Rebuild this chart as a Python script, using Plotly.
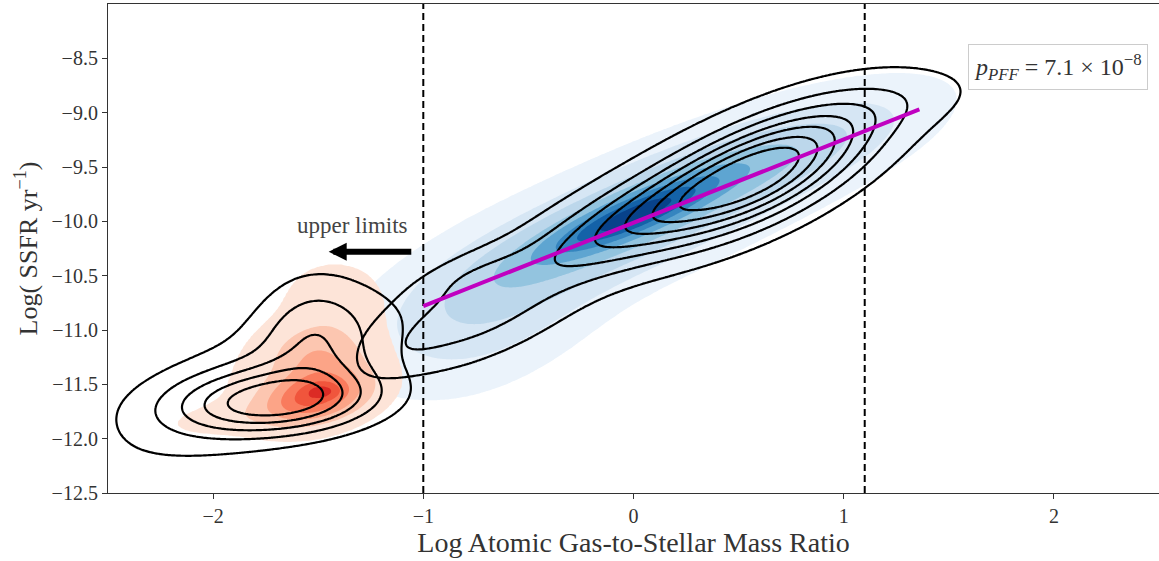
import numpy as np
import plotly.graph_objects as go

# ---- data ----
# Each density is a sum of tilted Gaussian blobs:
# centre (cx, cy), spread along x (sx), spread across the tilt (sv), tilt slope, weight.
blue_cx = [0.00, 0.00, 0.75, -0.70, 0.10]
blue_cy = [-9.94, -9.97, -9.38, -10.88, -9.95]
blue_sx = [0.28, 0.55, 0.38, 0.34, 0.90]
blue_sv = [0.13, 0.30, 0.24, 0.42, 0.48]
blue_slope = [0.77, 0.77, 0.60, 0.60, 0.75]
blue_w = [0.90, 0.60, 0.25, 0.22, 0.09]

red_cx = [-1.47, -1.52, -1.55, -1.42, -1.95, -1.50]
red_cy = [-11.56, -11.62, -11.45, -10.70, -11.82, -11.25]
red_sx = [0.06, 0.16, 0.28, 0.17, 0.20, 0.15]
red_sv = [0.05, 0.15, 0.36, 0.25, 0.10, 0.20]
red_slope = [0.00, 0.30, 0.20, 0.00, 0.20, 0.00]
red_w = [0.15, 0.75, 0.14, 0.13, 0.10, 0.30]

det_cx = [0.60, 0.00, -0.80, 0.30, 1.30, -0.78, -1.10]
det_cy = [-9.55, -10.01, -10.90, -9.72, -8.88, -10.48, -11.20]
det_sx = [0.35, 0.35, 0.35, 0.85, 0.30, 0.18, 0.15]
det_sv = [0.30, 0.24, 0.30, 0.52, 0.20, 0.12, 0.15]
det_slope = [0.77, 0.77, 0.60, 0.72, 0.30, 0.60, 0.80]
det_w = [1.00, 0.40, 0.28, 0.13, 0.08, 0.08, 0.05]

lim_cx = [-1.70, -1.52, -1.75]
lim_cy = [-11.66, -11.02, -11.45]
lim_sx = [0.32, 0.18, 0.55]
lim_sv = [0.20, 0.38, 0.42]
lim_slope = [0.10, 0.00, 0.75]
lim_w = [1.00, 0.36, 0.33]

det_levels = [0.10, 0.22, 0.34, 0.46, 0.58, 0.70, 0.82]
lim_levels = [0.14, 0.30, 0.47, 0.64, 0.81]
blue_levels = [0.04, 0.12, 0.22, 0.34, 0.48, 0.62, 0.76, 0.90]
red_levels = [0.06, 0.22, 0.40, 0.58, 0.76, 0.92]

fit_x = [-1.0, 1.36]
fit_y = [-10.78, -8.97]

vline_x = [-1.0, 1.1]

x_ticks = [-2, -1, 0, 1, 2]
y_ticks = [-12.5, -12.0, -11.5, -11.0, -10.5, -10.0, -9.5, -9.0, -8.5]

blues = ["#ebf3fb", "#d6e6f4", "#bcd7eb", "#93c4df", "#5ea5d1", "#3585bf", "#1462a8", "#08428a"]
reds = ["#fde4d8", "#fcc6b0", "#fca487", "#f97b5d", "#f0553c", "#dc2b25"]


def mixture(X, Y, cx, cy, sx, sv, slope, w):
    Z = np.zeros_like(X)
    for a, b, s1, s2, k, ww in zip(cx, cy, sx, sv, slope, w):
        u = (X - a) / s1
        v = ((Y - b) - k * (X - a)) / s2
        Z += ww * np.exp(-0.5 * (u * u + v * v))
    return Z / Z.max()


gx = np.linspace(-2.5, 2.5, 420)
gy = np.linspace(-12.5, -8.0, 320)
X, Y = np.meshgrid(gx, gy)
Zb = mixture(X, Y, blue_cx, blue_cy, blue_sx, blue_sv, blue_slope, blue_w)
Zr = mixture(X, Y, red_cx, red_cy, red_sx, red_sv, red_slope, red_w)
Zd = mixture(X, Y, det_cx, det_cy, det_sx, det_sv, det_slope, det_w)
Zl = mixture(X, Y, lim_cx, lim_cy, lim_sx, lim_sv, lim_slope, lim_w)


def remap(z, levels):
    # piecewise-linear remap so that level k sits at value k (k = 1..n)
    n = len(levels)
    return np.interp(z, [0.0] + levels + [1.0001], list(range(0, n + 1)) + [n + 0.999])


def add_fill(fig, z, levels, colors):
    n = len(colors)
    cols = ["rgba(255,255,255,0)"] + colors
    scale = []
    for i, c in enumerate(cols):
        scale.append([i / (n + 1), c])
        scale.append([(i + 1) / (n + 1), c])
    fig.add_trace(go.Contour(
        x=gx, y=gy, z=remap(z, levels), zmin=0, zmax=n + 1, autocontour=False,
        contours=dict(start=1, end=n, size=1, coloring="fill"),
        colorscale=scale, line=dict(width=0), showscale=False, hoverinfo="skip"))


def add_lines(fig, z, levels):
    n = len(levels)
    fig.add_trace(go.Contour(
        x=gx, y=gy, z=remap(z, levels), autocontour=False,
        contours=dict(start=1, end=n, size=1, coloring="lines"),
        colorscale=[[0, "black"], [1, "black"]],
        line=dict(width=2.2, color="black", smoothing=1.0), showscale=False, hoverinfo="skip"))


fig = go.Figure()
add_fill(fig, Zb, blue_levels, blues)
add_fill(fig, Zr, red_levels, reds)
add_lines(fig, Zd, det_levels)
add_lines(fig, Zl, lim_levels)

for xv in vline_x:
    fig.add_trace(go.Scatter(x=[xv, xv], y=[-12.5, -8.0], mode="lines",
                             line=dict(color="black", width=2, dash="7px,4px"),
                             showlegend=False, hoverinfo="skip"))

fig.add_trace(go.Scatter(x=fit_x, y=fit_y, mode="lines",
                         line=dict(color="#c000c0", width=4),
                         showlegend=False, hoverinfo="skip"))

font_family = "Liberation Serif"

fig.add_annotation(x=-1.45, y=-10.28, ax=-1.05, ay=-10.28, axref="x", ayref="y",
                   xref="x", yref="y", showarrow=True, arrowhead=2, arrowsize=0.6,
                   arrowwidth=6, arrowcolor="black", text="")
fig.add_annotation(x=-1.335, y=-10.04, xref="x", yref="y", showarrow=False,
                   text="upper limits", font=dict(family=font_family, size=23, color="#444"))
fig.add_annotation(x=0.99, y=0.871, xref="paper", yref="paper", xanchor="right", yanchor="middle",
                   showarrow=False,
                   text="<i>p</i><sub><i>PFF</i></sub> = 7.1 × 10<sup>−8</sup>",
                   font=dict(family=font_family, size=24, color="#333"),
                   bordercolor="#cccccc", borderwidth=1, borderpad=5, bgcolor="white")

fig.update_layout(
    width=1159, height=561,
    margin=dict(l=108, r=0, t=4, b=68),
    plot_bgcolor="white", paper_bgcolor="white",
    showlegend=False,
    font=dict(family=font_family, color="#333"),
    xaxis=dict(range=[-2.5, 2.5], tickvals=x_ticks, ticks="outside", ticklen=5,
               tickcolor="#333", showline=True, linecolor="#333", linewidth=1.2,
               mirror=True, showgrid=False, zeroline=False, automargin=False,
               tickfont=dict(size=20),
               title=dict(text="Log Atomic Gas-to-Stellar Mass Ratio", font=dict(size=28), standoff=4)),
    yaxis=dict(range=[-12.5, -8.0], tickvals=y_ticks, tickformat=".1f", ticks="outside", ticklen=5,
               tickcolor="#333", showline=True, linecolor="#333", linewidth=1.2,
               showgrid=False, zeroline=False, automargin=False,
               tickfont=dict(size=20),
               title=dict(text="Log( SSFR yr<sup>−1</sup>)", font=dict(size=26), standoff=6)),
)

fig.write_html("out.html", config={"displayModeBar": False},
               post_script="document.body.style.margin='0';document.body.style.padding='0';"
                           "document.body.style.overflow='hidden';")
